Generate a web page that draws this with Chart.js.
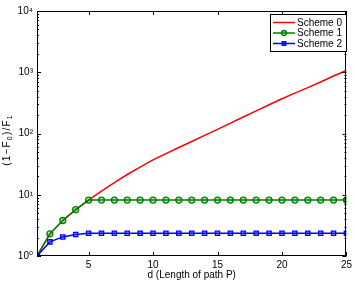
<!DOCTYPE html>
<html>
<head>
<meta charset="utf-8">
<script src="https://cdn.jsdelivr.net/npm/chart.js@4/dist/chart.umd.min.js"></script>
<style>
html, body { margin: 0; padding: 0; background: #fff; }
#wrap { width: 355px; height: 281px; }
</style>
</head>
<body>
<div id="wrap"><canvas id="myChart" width="355" height="281"></canvas></div>
<script>
// 데이터
var dValues = [1, 2, 3, 4, 5, 6, 7, 8, 9, 10, 11, 12, 13, 14, 15, 16, 17, 18, 19, 20, 21, 22, 23, 24, 25];
var scheme0 = [1, 2.3, 3.8, 5.7, 8.2, 11.5, 15.8, 21.4, 28.2, 37, 47, 59, 74, 93, 117, 148, 186, 234, 295, 370, 457, 562, 692, 870, 1070];
var scheme1 = [1, 2.3, 3.8, 5.7, 8.2, 8.2, 8.2, 8.2, 8.2, 8.2, 8.2, 8.2, 8.2, 8.2, 8.2, 8.2, 8.2, 8.2, 8.2, 8.2, 8.2, 8.2, 8.2, 8.2, 8.2];
var scheme2 = [1, 1.7, 2.05, 2.25, 2.35, 2.35, 2.35, 2.35, 2.35, 2.35, 2.35, 2.35, 2.35, 2.35, 2.35, 2.35, 2.35, 2.35, 2.35, 2.35, 2.35, 2.35, 2.35, 2.35, 2.35];
var seriesNames = ['Scheme 0', 'Scheme 1', 'Scheme 2'];
var xTicks = [5, 10, 15, 20, 25];
var yMajor = [1, 10, 100, 1000, 10000];
var yLabels = ['10\u2070', '10\u00b9', '10\u00b2', '10\u00b3', '10\u2074'];
var yMinorMult = [2, 3, 4, 5, 6, 7, 8, 9];
// y축 제목: [글자, 아래첨자 여부]
var yTitleParts = [['(1\u2212F', false], ['0', true], [')/F', false], ['1', true]];

var FONT = 'Liberation Sans, Arial, DejaVu Sans, sans-serif';

function toPoints(arr) {
    var pts = [];
    for (var i = 0; i < dValues.length; i++) {
        pts.push({ x: dValues[i], y: arr[i] });
    }
    return pts;
}

// 박스, 안쪽 눈금, 범례, y축 제목 그리기
var boxPlugin = {
    id: 'boxPlugin',
    afterDraw: function(chart) {
        var ctx = chart.ctx;
        var a = chart.chartArea;
        var xs = chart.scales.x;
        var ys = chart.scales.y;
        ctx.save();
        ctx.strokeStyle = '#000';
        ctx.lineWidth = 1;

        // 테두리
        ctx.strokeRect(Math.round(a.left) + 0.5, Math.round(a.top) + 0.5,
            Math.round(a.right - a.left) - 1, Math.round(a.bottom - a.top) - 1);

        // x 눈금 (위, 아래)
        ctx.beginPath();
        xTicks.forEach(function(v) {
            var px = Math.round(xs.getPixelForValue(v)) + 0.5;
            ctx.moveTo(px, a.bottom); ctx.lineTo(px, a.bottom - 4);
            ctx.moveTo(px, a.top); ctx.lineTo(px, a.top + 4);
        });
        // y 눈금 (주, 보조)
        yMajor.forEach(function(v, i) {
            var py = Math.round(ys.getPixelForValue(v)) + 0.5;
            ctx.moveTo(a.left, py); ctx.lineTo(a.left + 4, py);
            ctx.moveTo(a.right, py); ctx.lineTo(a.right - 4, py);
            if (i < yMajor.length - 1) {
                yMinorMult.forEach(function(m) {
                    var pm = Math.round(ys.getPixelForValue(v * m)) + 0.5;
                    ctx.moveTo(a.left, pm); ctx.lineTo(a.left + 2, pm);
                    ctx.moveTo(a.right, pm); ctx.lineTo(a.right - 2, pm);
                });
            }
        });
        ctx.stroke();

        // 범례
        var bx = 270.5, by = 14.5, bw = 76, bh = 37;
        ctx.fillStyle = '#fff';
        ctx.fillRect(bx, by, bw, bh);
        ctx.strokeRect(bx, by, bw, bh);
        ctx.font = '10px ' + FONT;
        ctx.textBaseline = 'middle';
        ctx.textAlign = 'left';
        chart.data.datasets.forEach(function(ds, i) {
            var ry = 22.5 + i * 10.5;
            ctx.strokeStyle = ds.borderColor;
            ctx.lineWidth = 1.5;
            ctx.beginPath();
            ctx.moveTo(273, ry); ctx.lineTo(295, ry);
            ctx.stroke();
            if (ds.pointRadius > 0) {
                ctx.fillStyle = ds.pointBackgroundColor;
                ctx.lineWidth = ds.pointBorderWidth;
                Chart.helpers.drawPoint(ctx, {
                    pointStyle: ds.pointStyle,
                    radius: 2.5,
                    borderWidth: ds.pointBorderWidth,
                    rotation: 0
                }, 284, ry);
            }
            ctx.fillStyle = '#000';
            ctx.fillText(ds.label, 297, ry + 0.5);
        });

        // y축 제목 (아래첨자)
        ctx.translate(7, 140);
        ctx.rotate(-Math.PI / 2);
        ctx.textAlign = 'left';
        ctx.textBaseline = 'middle';
        ctx.fillStyle = '#000';
        var widths = yTitleParts.map(function(p) {
            ctx.font = (p[1] ? '7px ' : '10px ') + FONT;
            return ctx.measureText(p[0]).width;
        });
        var spacing = 1.2;
        var total = widths.reduce(function(s, w) { return s + w; }, 0);
        ctx.letterSpacing = spacing + 'px';
        var cx = -(total + spacing * 9) / 2;
        yTitleParts.forEach(function(p, i) {
            ctx.font = (p[1] ? '7px ' : '10px ') + FONT;
            ctx.fillText(p[0], cx, p[1] ? 3 : 0);
            cx += widths[i] + spacing * p[0].length;
        });
        ctx.restore();
    }
};

var chart = new Chart(document.getElementById('myChart'), {
    type: 'line',
    data: {
        datasets: [
            {
                label: seriesNames[0],
                data: toPoints(scheme0),
                borderColor: '#ff0000',
                borderWidth: 1.5,
                pointRadius: 0,
                order: 3
            },
            {
                label: seriesNames[1],
                data: toPoints(scheme1),
                borderColor: '#008000',
                borderWidth: 1.5,
                pointStyle: 'circle',
                pointRadius: 3,
                pointBorderWidth: 1.3,
                pointBorderColor: '#008000',
                pointBackgroundColor: 'rgba(0,128,0,0.25)',
                order: 2
            },
            {
                label: seriesNames[2],
                data: toPoints(scheme2),
                borderColor: '#0000ff',
                borderWidth: 1.5,
                pointStyle: 'rect',
                pointRadius: 3,
                pointBorderWidth: 1.3,
                pointBorderColor: '#0000ff',
                pointBackgroundColor: 'rgba(0,0,255,0.3)',
                order: 1
            }
        ]
    },
    options: {
        responsive: false,
        animation: false,
        devicePixelRatio: 1,
        layout: { padding: { top: 11, right: 8, left: 0, bottom: 0 } },
        plugins: {
            legend: { display: false },
            tooltip: { enabled: false }
        },
        scales: {
            x: {
                type: 'linear',
                min: 1,
                max: 25,
                grid: { display: false, drawTicks: false },
                border: { display: false },
                afterBuildTicks: function(scale) {
                    scale.ticks = xTicks.map(function(v) { return { value: v }; });
                },
                afterFit: function(scale) { scale.height = 25; },
                ticks: {
                    color: '#000',
                    font: { family: FONT, size: 10 },
                    padding: 3,
                    maxRotation: 0,
                    autoSkip: false
                },
                title: {
                    display: true,
                    text: 'd (Length of path P)',
                    color: '#000',
                    font: { family: FONT, size: 10 },
                    padding: { top: 0, bottom: 0 }
                }
            },
            y: {
                type: 'logarithmic',
                min: 1,
                max: 10000,
                grid: { display: false, drawTicks: false },
                border: { display: false },
                afterBuildTicks: function(scale) {
                    scale.ticks = yMajor.map(function(v) { return { value: v }; });
                },
                afterFit: function(scale) { scale.width = 37; },
                ticks: {
                    color: '#000',
                    font: { family: FONT, size: 10 },
                    padding: 4,
                    autoSkip: false,
                    callback: function(value) {
                        var i = yMajor.indexOf(value);
                        return i >= 0 ? yLabels[i] : '';
                    }
                },
                title: { display: false }
            }
        }
    },
    plugins: [boxPlugin]
});
</script>
</body>
</html>
